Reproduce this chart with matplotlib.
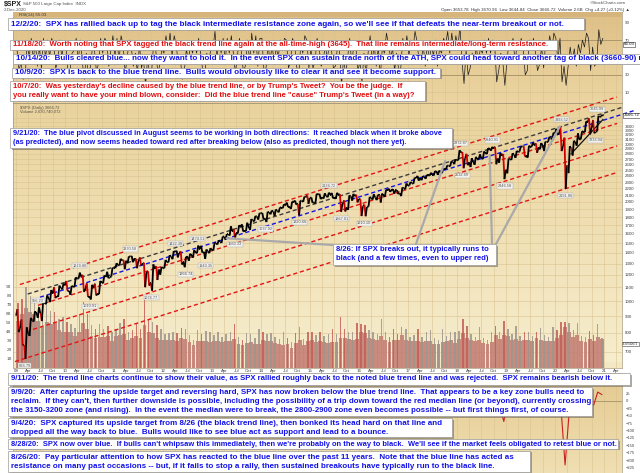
import numpy as np
import pandas as pd
import matplotlib
matplotlib.use("Agg")
import matplotlib.pyplot as plt
import matplotlib.transforms as mtransforms
from matplotlib.patches import Rectangle
from matplotlib.collections import LineCollection
from matplotlib.colors import LinearSegmentedColormap
from matplotlib.ticker import FixedLocator, FixedFormatter, NullLocator

plt.rcParams['font.family'] = ['Liberation Sans', 'DejaVu Sans']

W, H = 640, 473

# ---------------- data: monthly SPX, Jan 2009 .. Dec 2020 ----------------
months = pd.date_range("2009-01-01", periods=144, freq="MS")
open_first = 903.0

close = [825.9, 735.1, 797.9, 872.8, 919.1, 919.3, 987.5, 1020.6, 1057.1, 1036.2, 1095.6, 1115.1,
         1073.9, 1104.5, 1169.4, 1186.7, 1089.4, 1030.7, 1101.6, 1049.3, 1141.2, 1183.3, 1180.6, 1257.6,
         1286.1, 1327.2, 1325.8, 1363.6, 1345.2, 1320.6, 1292.3, 1219.0, 1131.4, 1253.3, 1247.0, 1257.6,
         1312.4, 1365.7, 1408.5, 1397.9, 1310.3, 1362.2, 1379.3, 1406.6, 1440.7, 1412.2, 1416.2, 1426.2,
         1498.1, 1514.7, 1569.2, 1597.6, 1630.7, 1606.3, 1685.7, 1633.0, 1681.6, 1756.5, 1805.8, 1848.4,
         1782.6, 1859.5, 1872.3, 1883.9, 1923.6, 1960.2, 1930.7, 2003.4, 1972.3, 2018.1, 2067.6, 2058.9,
         1995.0, 2104.5, 2067.9, 2085.5, 2107.4, 2063.1, 2103.8, 1972.2, 1920.0, 2079.4, 2080.4, 2043.9,
         1940.2, 1932.2, 2059.7, 2065.3, 2096.9, 2098.9, 2173.6, 2170.9, 2168.3, 2126.2, 2198.8, 2238.8,
         2278.9, 2363.6, 2362.7, 2384.2, 2411.8, 2423.4, 2470.3, 2471.7, 2519.4, 2575.3, 2647.6, 2673.6,
         2823.8, 2713.8, 2640.9, 2648.1, 2705.3, 2718.4, 2816.3, 2901.5, 2914.0, 2711.7, 2760.2, 2506.9,
         2704.1, 2784.5, 2834.4, 2945.8, 2752.1, 2941.8, 2980.4, 2926.5, 2976.7, 3037.6, 3141.0, 3230.8,
         3225.5, 2954.2, 2584.6, 2912.4, 3044.3, 3100.3, 3271.1, 3500.3, 3363.0, 3270.0, 3621.6, 3666.7]
high = [943.9, 877.9, 832.0, 888.7, 930.2, 956.2, 993.2, 1039.5, 1080.2, 1101.4, 1113.7, 1130.4,
        1150.5, 1112.4, 1180.2, 1219.8, 1200.7, 1131.2, 1120.0, 1129.2, 1150.3, 1196.1, 1227.1, 1262.6,
        1302.7, 1344.1, 1332.3, 1366.0, 1370.6, 1345.2, 1356.5, 1307.4, 1230.7, 1292.7, 1277.6, 1269.4,
        1333.5, 1378.0, 1419.2, 1422.4, 1415.3, 1363.5, 1392.0, 1426.7, 1474.5, 1470.9, 1434.3, 1448.0,
        1504.2, 1530.9, 1570.3, 1597.6, 1687.2, 1654.2, 1698.8, 1709.7, 1729.9, 1775.2, 1813.6, 1849.4,
        1850.8, 1867.9, 1883.9, 1897.3, 1924.0, 1968.2, 1991.4, 2005.0, 2019.3, 2018.2, 2075.8, 2093.6,
        2064.4, 2119.6, 2117.5, 2125.9, 2134.7, 2129.9, 2132.8, 2112.7, 2021.0, 2094.3, 2116.5, 2104.3,
        2038.2, 1963.0, 2072.2, 2111.1, 2103.5, 2120.6, 2177.1, 2193.8, 2187.9, 2169.6, 2214.1, 2277.5,
        2301.0, 2371.5, 2401.0, 2398.2, 2418.7, 2453.8, 2484.0, 2490.9, 2519.4, 2583.0, 2657.7, 2695.0,
        2872.9, 2836.0, 2801.9, 2717.5, 2742.2, 2791.5, 2848.0, 2916.5, 2940.9, 2939.9, 2815.2, 2800.2,
        2709.0, 2813.5, 2860.3, 2949.5, 2954.1, 2964.2, 3028.0, 3013.6, 3022.0, 3050.1, 3154.3, 3247.9,
        3337.8, 3393.5, 3136.7, 2954.9, 3068.7, 3233.1, 3280.0, 3514.8, 3588.1, 3549.9, 3646.0, 3678.5]
low = [804.3, 734.5, 666.8, 783.3, 866.1, 888.9, 869.3, 978.5, 992.3, 1020.2, 1029.4, 1085.9,
       1071.6, 1044.5, 1105.4, 1170.7, 1065.8, 1028.3, 1010.9, 1039.7, 1049.0, 1131.9, 1173.0, 1186.6,
       1257.6, 1282.9, 1249.1, 1302.7, 1311.8, 1258.1, 1282.9, 1101.5, 1114.2, 1074.8, 1158.7, 1202.4,
       1259.0, 1311.0, 1340.0, 1357.4, 1291.0, 1266.7, 1325.4, 1354.7, 1396.6, 1403.3, 1343.4, 1398.1,
       1426.2, 1485.0, 1501.5, 1536.0, 1581.3, 1560.3, 1604.6, 1627.5, 1633.4, 1646.5, 1746.2, 1767.9,
       1770.5, 1737.9, 1834.4, 1814.4, 1859.8, 1915.0, 1930.7, 1904.8, 1964.0, 1820.7, 2001.0, 1972.6,
       1988.1, 1980.9, 2039.7, 2048.4, 2067.9, 2056.3, 2044.0, 1867.0, 1871.9, 1893.7, 2019.4, 1993.3,
       1812.3, 1810.1, 1937.1, 2033.8, 2025.9, 1991.7, 2074.0, 2147.6, 2119.1, 2114.7, 2083.8, 2187.9,
       2245.1, 2271.7, 2322.3, 2329.0, 2352.7, 2405.7, 2407.7, 2417.4, 2446.6, 2520.4, 2566.3, 2605.5,
       2682.4, 2532.7, 2585.9, 2553.8, 2594.6, 2698.7, 2699.0, 2796.3, 2864.1, 2603.5, 2631.1, 2346.6,
       2444.0, 2681.8, 2722.3, 2848.6, 2750.5, 2728.8, 2952.2, 2822.1, 2891.9, 2855.9, 3050.7, 3070.3,
       3214.6, 2855.8, 2191.9, 2447.5, 2766.6, 2965.7, 3101.2, 3260.0, 3209.5, 3233.9, 3279.7, 3644.8]

# volume, billions: monthly typical level and monthly spike
vol_avg = [5.2, 5.9, 6.6, 6.2, 6.0, 5.2, 4.5, 5.1, 4.8, 4.9, 4.2, 3.9,
           3.9, 3.9, 3.5, 4.0, 4.9, 4.3, 3.5, 3.3, 3.4, 3.4, 3.5, 3.0,
           3.5, 3.6, 3.7, 3.1, 3.3, 3.5, 3.3, 4.7, 3.9, 3.8, 3.3, 3.1,
           3.1, 3.1, 3.1, 3.0, 3.3, 3.2, 2.8, 2.5, 2.9, 2.9, 2.9, 2.8,
           2.9, 3.0, 2.8, 2.9, 3.0, 3.2, 2.6, 2.5, 2.7, 2.8, 2.6, 2.6,
           3.1, 3.0, 2.9, 2.7, 2.6, 2.5, 2.6, 2.2, 2.7, 3.1, 2.5, 2.9,
           3.1, 2.8, 2.9, 2.8, 2.7, 2.8, 2.8, 3.3, 3.3, 3.2, 3.1, 3.2,
           3.9, 3.8, 3.3, 3.2, 3.1, 3.5, 3.1, 2.8, 3.1, 3.1, 3.6, 3.1,
           2.9, 2.9, 3.0, 2.8, 2.9, 3.0, 2.6, 2.6, 2.8, 2.9, 3.1, 2.7,
           3.2, 3.8, 3.3, 3.1, 2.9, 3.1, 2.7, 2.6, 2.8, 3.6, 3.2, 3.6,
           3.5, 3.1, 3.2, 2.9, 3.1, 3.1, 2.9, 3.3, 3.1, 3.0, 2.9, 3.0,
           3.3, 3.6, 4.5, 3.9, 3.4, 3.6, 3.0, 2.8, 3.2, 3.0, 3.4, 3.2]
vol_max = [7.2, 7.6, 8.9, 8.0, 7.5, 7.0, 6.0, 7.2, 6.3, 6.2, 5.4, 5.6,
           5.1, 4.8, 4.4, 5.9, 7.3, 5.9, 4.7, 4.3, 4.8, 4.3, 4.6, 3.9,
           4.3, 5.0, 5.4, 3.9, 4.2, 4.9, 4.3, 7.6, 5.4, 5.1, 4.7, 4.3,
           3.7, 3.8, 3.9, 3.8, 4.4, 4.3, 3.6, 3.1, 4.2, 3.7, 4.1, 4.0,
           3.6, 3.9, 3.4, 3.7, 3.9, 4.8, 3.4, 3.1, 3.8, 3.7, 3.3, 4.3,
           3.9, 3.7, 3.8, 3.4, 3.2, 3.9, 3.3, 2.8, 3.8, 4.5, 3.2, 4.0,
           3.9, 3.6, 3.9, 3.5, 3.7, 4.3, 3.7, 5.6, 4.3, 3.9, 4.0, 4.9,
           4.8, 4.7, 4.2, 3.9, 3.7, 5.4, 3.9, 3.4, 4.3, 3.7, 4.5, 4.3,
           3.4, 3.6, 4.3, 3.4, 3.9, 4.2, 3.3, 3.1, 4.3, 3.5, 4.0, 4.0,
           4.1, 5.4, 4.6, 3.7, 3.4, 4.5, 3.3, 3.1, 4.0, 4.6, 3.9, 5.2,
           4.3, 3.7, 4.6, 3.5, 3.9, 4.0, 3.5, 4.0, 4.4, 3.6, 3.4, 4.5,
           4.2, 5.1, 5.1, 5.0, 4.2, 5.0, 3.5, 3.4, 4.1, 3.6, 4.8, 3.3]

# RSI(14): monthly extremes of the daily line
rsi_hi = [60, 45, 65, 72, 68, 62, 72, 70, 72, 65, 70, 68,
          68, 55, 72, 70, 45, 55, 62, 58, 72, 72, 68, 75,
          72, 75, 65, 70, 62, 55, 65, 48, 50, 68, 58, 60,
          75, 78, 75, 65, 50, 60, 65, 68, 72, 55, 55, 62,
          80, 70, 72, 72, 75, 55, 72, 55, 70, 78, 75, 72,
          72, 65, 65, 62, 70, 72, 70, 72, 65, 65, 75, 70,
          60, 72, 62, 65, 65, 60, 62, 58, 50, 72, 65, 62,
          45, 55, 75, 65, 62, 62, 78, 65, 60, 55, 72, 75,
          70, 80, 68, 65, 68, 65, 70, 60, 72, 80, 78, 75,
          87, 45, 58, 55, 62, 60, 70, 72, 70, 65, 55, 45,
          68, 72, 65, 72, 58, 70, 72, 55, 62, 68, 75, 78,
          72, 72, 40, 62, 60, 65, 70, 78, 72, 62, 82, 72]
rsi_lo = [35, 25, 28, 50, 48, 40, 38, 50, 50, 38, 45, 50,
          30, 35, 58, 45, 25, 28, 40, 32, 45, 55, 40, 58,
          52, 45, 32, 50, 40, 32, 38, 18, 30, 35, 32, 42,
          55, 58, 52, 42, 25, 35, 45, 55, 55, 35, 30, 42,
          60, 50, 55, 45, 55, 32, 52, 32, 42, 45, 55, 40,
          35, 38, 45, 42, 50, 58, 38, 45, 40, 28, 55, 38,
          38, 45, 40, 45, 48, 38, 40, 18, 30, 50, 42, 35,
          22, 30, 55, 45, 40, 28, 55, 50, 35, 35, 38, 58,
          52, 60, 45, 42, 40, 45, 52, 40, 55, 65, 55, 58,
          60, 20, 30, 38, 45, 45, 55, 55, 55, 22, 35, 18,
          45, 62, 45, 58, 30, 35, 60, 35, 42, 38, 60, 58,
          45, 22, 18, 40, 45, 40, 55, 62, 35, 40, 45, 65]

# lower oscillator panel, Jan 2018 .. Dec 2020
osc = [12, -35, -25, -12, 6, 4, 10, 14, 8, -45, -20, -70,
       15, 18, 10, 16, -25, 12, 14, -12, 2, 9, 17, 19,
       8, -25, -215, -40, 12, 14, 18, 22, -12, -15, 28, 20]

# trend lines: value on 2020-03-23 and common channel growth (log10 per year)
trend_ref_t = 2020.224
trend_growth = 0.04677
trend_p_ref = [3727, 3427, 3263, 3096, 2645, 2197]
trend_start = [2009.08, 2009.24, 2009.49, 2009.45, 2009.35, 2008.98]
trend_end = [2021.27, 2021.37, 2021.62, 2021.27, 2021.27, 2021.27]
trend_colors = ['#e31414', '#3c3c3c', '#1414e6', '#e31414', '#e31414', '#e31414']
support_t = [2020.33, 2020.98]
support_p = [2800, 3560]

# pivot labels
pivot_t = [2009.18, 2009.45, 2010.30, 2010.51, 2011.33, 2011.76, 2012.26, 2012.46, 2012.71,
           2012.87, 2013.47, 2014.09, 2014.79, 2015.39, 2015.65, 2016.11, 2018.07, 2018.11,
           2018.72, 2018.98, 2020.14, 2020.22, 2020.86, 2020.83]
pivot_p = [666.79, 956.23, 1219.80, 1010.91, 1370.58, 1074.77, 1422.38, 1266.74, 1474.51,
           1343.35, 1560.33, 1737.92, 1820.66, 2134.72, 1867.01, 1810.10, 2872.87, 2532.69,
           2940.91, 2346.58, 3393.52, 2191.86, 3645.99, 3233.94]
pivot_up = [0, 1, 1, 0, 1, 0, 1, 0, 1, 0, 0, 0, 0, 1, 0, 0, 1, 0, 1, 0, 1, 0, 1, 0]

# 8/26 callout leader targets (chart points) and their box ends (pixels)
callout_t = [2013.30, 2017.76, 2018.67, 2020.10]
callout_p = [1551, 2664, 2776, 3390]
callout_px = [(333, 245), (416, 244), (492, 244), (496, 244)]

price_ticks = list(range(700, 3500, 100))
rsi_ticks = [10, 30, 70, 90]
osc_ticks = [25, 0, -25, -50, -75, -100, -125, -150, -175, -200, -225]

# ---------------- layout ----------------
PL, PR = 13, 622
RT, RB = 12, 103
MT, MB = 103, 367.5
LT, LB = 373, 473
T0, T1 = 2008.94, 2021.37
GRID = '#d7c08c'

fig = plt.figure(figsize=(W / 100, H / 100), dpi=100)
fig.patch.set_facecolor('white')


def rect(top, bot):
    return [PL / W, 1 - bot / H, (PR - PL) / W, (bot - top) / H]


def gradient_panel(top, bot, c_top, c_bot):
    a = fig.add_axes(rect(top, bot), zorder=0)
    cm = LinearSegmentedColormap.from_list('bg', [c_bot, c_top])
    a.imshow(np.linspace(1, 0, 200).reshape(-1, 1), aspect='auto', cmap=cm,
             extent=[0, 1, 0, 1], vmin=0, vmax=1)
    a.set_xlim(0, 1)
    a.set_ylim(0, 1)
    a.axis('off')
    return a


t_start = np.asarray(months.year + (months.month - 1) / 12.0)
t_mid = t_start + 0.5 / 12
close = np.asarray(close)
opens = np.r_[open_first, close[:-1]]
quarters = np.arange(2009, 2021.3, 0.25)
q_labels = []
for q in quarters:
    m = int(round((q % 1) * 4))
    q_labels.append(f"{int(q) % 100:02d}" if m == 0 else ['', 'Apr', 'Jul', 'Oct'][m])

# ---- main panel ----
gradient_panel(MT, MB, '#e9d29c', '#f7eece')

axg = fig.add_axes(rect(MT, MB), zorder=1)
axg.set_yscale('log')
axg.set_xlim(T0, T1)
axg.set_ylim(628, 3998)
for p in price_ticks + [3500, 3600]:
    axg.axhline(p, color=GRID, lw=0.5, alpha=0.7)
for q in quarters:
    axg.axvline(q, color=GRID, lw=0.5, alpha=0.7)
axg.axis('off')

axv = fig.add_axes(rect(MT, MB), zorder=2)
axv.patch.set_alpha(0)
axv.set_xlim(T0, T1)
axv.set_ylim(0, (MB - MT) / 9.0)
spike_color = np.where(close < opens, '#c45f58', '#9d968e')
axv.bar(t_mid, vol_avg, width=0.95 / 12, color='#c27a70', alpha=0.85, lw=0)
axv.bar(t_mid, vol_max, width=0.35 / 12, color=spike_color, alpha=0.85, lw=0)
axv.set_yticks(range(1, 10))
axv.set_yticklabels([f"{v}B" for v in range(1, 10)])
axv.tick_params(axis='y', length=0, pad=1, labelsize=3.2, labelcolor='#505050')
axv.set_xticks([])
for s in axv.spines.values():
    s.set_visible(False)
axv.text(1.0, 2.63, '2630740072', transform=mtransforms.blended_transform_factory(axv.transAxes, axv.transData),
         fontsize=2.1, va='center', ha='left', color='#202020',
         bbox=dict(boxstyle='square,pad=0.1', fc='white', ec='#404040', lw=0.4))

ax = fig.add_axes(rect(MT, MB), zorder=3)
ax.patch.set_alpha(0)
ax.set_yscale('log')
ax.set_xlim(T0, T1)
ax.set_ylim(628, 3998)

# trend lines
for p0, ts_, te_, c in zip(trend_p_ref, trend_start, trend_end, trend_colors):
    tt = np.array([ts_, te_])
    ax.plot(tt, p0 * 10 ** (trend_growth * (tt - trend_ref_t)), color=c, lw=1.0,
            ls=(0, (3, 2)), clip_on=False, zorder=2)
ax.plot(support_t, support_p, color='#111111', lw=0.9, zorder=2)

# price path from monthly open/high/low/close
frac = np.array([0.05, 0.35, 0.65, 0.95]) / 12
path_t, path_p = [], []
for i in range(len(close)):
    if close[i] >= opens[i]:
        seq = [opens[i], low[i], high[i], close[i]]
    else:
        seq = [opens[i], high[i], low[i], close[i]]
    path_t.extend(t_start[i] + frac)
    path_p.extend(seq)
path_t = np.array(path_t)
path_p = np.array(path_p)
pts = np.column_stack([path_t, path_p])
segs = np.stack([pts[:-1], pts[1:]], axis=1)
seg_col = np.where(path_p[1:] < path_p[:-1] * 0.95, '#d00000', '#000000')
ax.add_collection(LineCollection(segs, colors=seg_col, linewidths=1.3, zorder=3))

# pivot labels
for t, p, up in zip(pivot_t, pivot_p, pivot_up):
    ax.text(t, p * (1.035 if up else 1 / 1.035), f"{p:.2f}", fontsize=2.8, color='#555555',
            ha='center', va='bottom' if up else 'top', zorder=4,
            bbox=dict(boxstyle='square,pad=0.15', fc='#f3f1ec', ec='#a8a8a8', lw=0.3))

# leader lines of the 8/26 callout
for t, p, (bx, by) in zip(callout_t, callout_p, callout_px):
    ax.annotate('', xy=(t, p), xycoords='data', xytext=(bx, H - by), textcoords='figure pixels',
                arrowprops=dict(arrowstyle='-', color='#a9a9a9', lw=1.6, shrinkA=0, shrinkB=0),
                annotation_clip=False, zorder=5)

ax.yaxis.tick_right()
ax.yaxis.set_major_locator(FixedLocator(price_ticks))
ax.yaxis.set_minor_locator(NullLocator())
ax.yaxis.set_major_formatter(FixedFormatter([str(p) for p in price_ticks]))
ax.tick_params(axis='y', length=0, pad=2, labelsize=3.2, labelcolor='#404040')
ax.set_xticks(quarters)
ax.set_xticklabels(q_labels)
ax.xaxis.set_minor_locator(NullLocator())
ax.tick_params(axis='x', length=0, pad=0.9, labelsize=3.2, labelcolor='#404040')
for s in ax.spines.values():
    s.set_color('#a89878')
    s.set_linewidth(0.5)
ax.text(1.003, 3666.72, '3666.72', transform=mtransforms.blended_transform_factory(ax.transAxes, ax.transData),
        fontsize=3.2, va='center', ha='left', color='#101010', zorder=6,
        bbox=dict(boxstyle='square,pad=0.15', fc='white', ec='#303030', lw=0.4))
ax.text(0.012, 0.989, '$SPX (Daily) 3666.72', transform=ax.transAxes, fontsize=3.0,
        color='#505050', va='top')
ax.text(0.012, 0.974, 'Volume 2,630,740,072', transform=ax.transAxes, fontsize=3.0,
        color='#505050', va='top')

# ---- RSI panel ----
gradient_panel(RT, RB, '#dfc086', '#ecd5a2')
axr = fig.add_axes(rect(RT, RB), zorder=3)
axr.patch.set_alpha(0)
axr.set_xlim(T0, T1)
axr.set_ylim(-2.2, 102.2)
for q in quarters:
    axr.axvline(q, color=GRID, lw=0.5, alpha=0.7, zorder=0)
for v in [10, 30, 50, 70, 90]:
    axr.axhline(v, color=GRID, lw=0.5, alpha=0.7, zorder=0)
axr.axhline(70, color='#9a8660', lw=0.5)
axr.axhline(30, color='#9a8660', lw=0.5)
rsi_t, rsi_v = [], []
for i in range(len(close)):
    seq = [rsi_lo[i], rsi_hi[i]] if close[i] >= opens[i] else [rsi_hi[i], rsi_lo[i]]
    rsi_t.extend(t_start[i] + np.array([0.25, 0.75]) / 12)
    rsi_v.extend(seq)
axr.plot(rsi_t, rsi_v, color='#1a1a1a', lw=0.5)
axr.yaxis.tick_right()
axr.set_yticks(rsi_ticks)
axr.tick_params(axis='y', length=0, pad=2, labelsize=3.2, labelcolor='#404040')
axr.set_xticks([])
for s in axr.spines.values():
    s.set_color('#a89878')
    s.set_linewidth(0.5)
axr.text(1.003, 65.03, '65.03', transform=mtransforms.blended_transform_factory(axr.transAxes, axr.transData),
         fontsize=3.2, va='center', ha='left', color='#101010',
         bbox=dict(boxstyle='square,pad=0.15', fc='white', ec='#303030', lw=0.4))

# ---- lower oscillator panel ----
gradient_panel(LT, LB, '#e4c98f', '#f0dfb3')
axl = fig.add_axes(rect(LT, LB), zorder=3)
axl.patch.set_alpha(0)
axl.set_xlim(T0, T1)
axl.set_ylim(-241.7, 91.7)
for q in quarters:
    axl.axvline(q, color=GRID, lw=0.5, alpha=0.7, zorder=0)
axl.axhline(0, color='#9a8660', lw=0.5)
axl.plot(t_mid[108:], osc, color='#cc1f1f', lw=0.8)
axl.yaxis.tick_right()
axl.set_yticks(osc_ticks)
axl.tick_params(axis='y', length=0, pad=2.5, labelsize=3.0, labelcolor='#404040')
axl.set_xticks([])
for s in axl.spines.values():
    s.set_color('#a89878')
    s.set_linewidth(0.5)

# ---- header ----
def fpt(x, y):
    return x / W, 1 - y / H


fig.add_artist(Rectangle(fpt(PL, 367.5), (PR - PL) / W, 5.5 / H, transform=fig.transFigure,
                         fc='#f3e7c4', ec='none', zorder=0.5))
fig.add_artist(Rectangle(fpt(PL, 17.5), (PR - PL) / W, 5.5 / H, transform=fig.transFigure,
                         fc='#d6b57d', ec='none', zorder=4))
fig.text(*fpt(19, 14.8), 'RSI(14) 65.03', fontsize=3.2, color='#3a3a3a', va='center', zorder=5)
fig.text(*fpt(4, 4.5), '$SPX', fontsize=5, fontweight='bold', color='#202020', va='center')
fig.text(*fpt(23, 4.5), 'S&P 500 Large Cap Index  INDX', fontsize=3.2, color='#505050', va='center')
fig.text(*fpt(4, 10), '2-Dec-2020', fontsize=3.2, color='#505050', va='center')
fig.text(*fpt(626, 3.5), '\u00a9StockCharts.com', fontsize=3.2, color='#505050', va='center', ha='right')
fig.text(*fpt(630, 9.5), 'Open 3653.78  High 3670.96  Low 3644.84  Close 3666.72  Volume 2.6B  Chg +4.27 (+0.12%) \u25b2',
         fontsize=3.2, color='#303030', va='center', ha='right')

# ---- comment boxes ----
BLUE, RED = '#1212e8', '#e00f0f'
box_x0 = [8, 10, 13, 12, 10, 10, 333, 8, 8, 8, 8, 8]
box_y0 = [18, 40, 54, 68, 81, 128, 244, 373, 387, 418, 439, 451]
box_x1 = [584, 557, 650, 440, 425, 452, 496, 630, 592, 452, 618, 530]
box_y1 = [30, 50, 64, 78, 101, 148, 265, 385, 416, 437, 448.5, 472]
box_fs = [5.83, 5.55, 5.75, 5.83, 5.6, 5.35, 5.5, 5.55, 5.65, 5.75, 5.4, 5.8]
box_color = [BLUE, RED, BLUE, BLUE, RED, BLUE, BLUE, BLUE, BLUE, BLUE, BLUE, BLUE]
box_line_y = [[24], [45], [59], [73], [86.5, 95.5], [133, 142], [249.5, 258], [379],
              [393, 401.7, 410], [423, 432], [444], [457, 466]]
box_text = [
    ["12/2/20:  SPX has rallied back up to tag the black intermediate resistance zone again, so we'll see if that defeats the near-term breakout or not."],
    ["11/18/20:  Worth noting that SPX tagged the black trend line again at the all-time-high (3645).  That line remains intermediate/long-term resistance."],
    ["10/14/20:  Bulls cleared blue... now they want to hold it.  In the event SPX can sustain trade north of the ATH, SPX could head toward another tag of black (3660-90) next."],
    ["10/9/20:  SPX is back to the blue trend line.  Bulls would obviously like to clear it and see it become support."],
    ["10/7/20:  Was yesterday's decline caused by the blue trend line, or by Trump's Tweet?  You be the judge.  If",
     "you really want to have your mind blown, consider:  Did the blue trend line \"cause\" Trump's Tweet (in a way)?"],
    ["9/21/20:  The blue pivot discussed in August seems to be working in both directions:  It reached black when it broke above",
     "(as predicted), and now seems headed toward red after breaking below (also as predicted, though not there yet)."],
    ["8/26: If SPX breaks out, it typically runs to",
     "black (and a few times, even to upper red)"],
    ["9/11/20:  The trend line charts continue to show their value, as SPX rallied roughly back to the noted blue trend line and was rejected.  SPX remains bearish below it."],
    ["9/9/20:  After capturing the upside target and reversing hard, SPX has now broken below the blue trend line.  That appears to be a key zone bulls need to",
     "reclaim.  If they can't, then further downside is possible, including the possibility of a trip down toward the red median line (or beyond), currently crossing",
     "the 3150-3200 zone (and rising).  In the event the median were to break, the 2800-2900 zone even becomes possible -- but first things first, of course."],
    ["9/4/20:  SPX captured its upside target from 8/26 (the black trend line), then bonked its head hard on that line and",
     "dropped all the way back to blue.  Bulls would like to see blue act as support and lead to a bounce."],
    ["8/28/20:  SPX now over blue.  If bulls can't whipsaw this immediately, then we're probably on the way to black.  We'll see if the market feels obligated to retest blue or not."],
    ["8/26/20:  Pay particular attention to how SPX has reacted to the blue line over the past 11 years.  Note that the blue line has acted as",
     "resistance on many past occasions -- but, if it fails to stop a rally, then sustained breakouts have typically run to the black line."],
]

for x0, y0, x1, y1, fs, c, ys, lines in zip(box_x0, box_y0, box_x1, box_y1, box_fs, box_color,
                                              box_line_y, box_text):
    fig.add_artist(Rectangle(fpt(x0 + 1.5, y1 + 1.5), (x1 - x0) / W, (y1 - y0) / H,
                             transform=fig.transFigure, fc='#6e6250', ec='none', alpha=0.55, zorder=10))
    fig.add_artist(Rectangle(fpt(x0, y1), (x1 - x0) / W, (y1 - y0) / H,
                             transform=fig.transFigure, fc='white', ec='#9a9a9a', lw=0.5, zorder=11))
    for y, line in zip(ys, lines):
        fig.text(*fpt(x0 + 3, y), line, fontsize=fs, fontweight='bold', color=c,
                 va='center', ha='left', zorder=12)

fig.savefig('out.png', dpi=100)
